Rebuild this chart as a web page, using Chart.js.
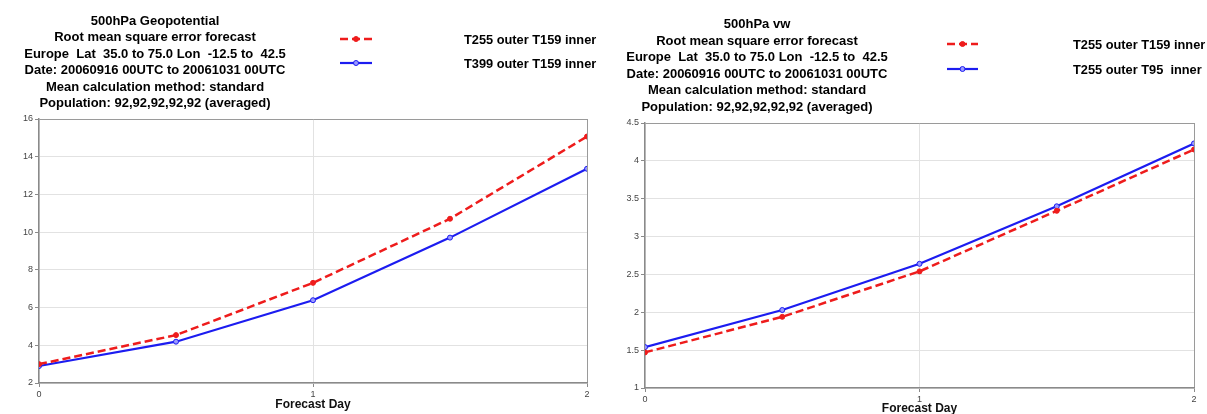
<!DOCTYPE html>
<html>
<head>
<meta charset="utf-8">
<script src="https://cdn.jsdelivr.net/npm/chart.js@4.4.1/dist/chart.umd.min.js"></script>
<style>
    html, body { margin: 0; padding: 0; background: #fff; }
    body { width: 1207px; height: 414px; position: relative; overflow: hidden; }
    .panel { position: absolute; top: 0; height: 414px; }
    #leftPanel { left: 0; width: 600px; }
    #rightPanel { left: 600px; width: 607px; }
</style>
</head>
<body>
<div class="panel" id="leftPanel"><canvas id="geoChart" width="600" height="414"></canvas></div>
<div class="panel" id="rightPanel"><canvas id="vwChart" width="607" height="414"></canvas></div>
<script>
// ================= DATA =================
const forecastDays = [0, 0.5, 1, 1.5, 2];
const xTicks = [0, 1, 2];

// 500hPa Geopotential - RMSE
const geoT255T159 = [3.0, 4.54, 7.31, 10.71, 15.07];
const geoT399T159 = [2.9, 4.19, 6.39, 9.71, 13.36];
const geoYTicks = [2, 4, 6, 8, 10, 12, 14, 16];

// 500hPa vw - RMSE
const vwT255T159 = [1.47, 1.94, 2.54, 3.34, 4.15];
const vwT255T95 = [1.54, 2.03, 2.64, 3.40, 4.23];
const vwYTicks = [1, 1.5, 2, 2.5, 3, 3.5, 4, 4.5];

const geoTitle = [
    "500hPa Geopotential",
    "Root mean square error forecast",
    "Europe  Lat  35.0 to 75.0 Lon  -12.5 to  42.5",
    "Date: 20060916 00UTC to 20061031 00UTC",
    "Mean calculation method: standard",
    "Population: 92,92,92,92,92 (averaged)"
];
const vwTitle = [
    "500hPa vw",
    "Root mean square error forecast",
    "Europe  Lat  35.0 to 75.0 Lon  -12.5 to  42.5",
    "Date: 20060916 00UTC to 20061031 00UTC",
    "Mean calculation method: standard",
    "Population: 92,92,92,92,92 (averaged)"
];
const geoLabels = ["T255 outer T159 inner", "T399 outer T159 inner"];
const vwLabels = ["T255 outer T159 inner", "T255 outer T95  inner"];

const FONT = "'Liberation Sans', Arial, Helvetica, sans-serif";
Chart.defaults.font.family = FONT;

// ================= TITLE + LEGEND PLUGIN =================
const headerPlugin = {
    id: "header",
    afterDraw(chart, args, opts) {
        const ctx = chart.ctx;
        ctx.save();
        ctx.fillStyle = "#000";
        ctx.textBaseline = "middle";
        ctx.font = "bold 13px " + FONT;
        ctx.textAlign = "center";
        opts.lines.forEach((line, i) => {
            ctx.fillText(line, opts.titleX, opts.titleY + i * opts.lineGap);
        });

        // legend rows
        ctx.font = "bold 12.8px " + FONT;
        ctx.textAlign = "left";
        chart.data.datasets.forEach((ds, i) => {
            const y = opts.legendY[i];
            ctx.strokeStyle = ds.borderColor;
            ctx.lineWidth = ds.borderWidth;
            ctx.setLineDash(ds.borderDash || []);
            ctx.beginPath();
            ctx.moveTo(opts.markX1, y);
            ctx.lineTo(opts.markX2, y);
            ctx.stroke();
            ctx.setLineDash([]);
            ctx.beginPath();
            ctx.arc((opts.markX1 + opts.markX2) / 2, y, 2.5, 0, Math.PI * 2);
            ctx.fillStyle = ds.pointBackgroundColor;
            ctx.fill();
            ctx.lineWidth = 1;
            ctx.strokeStyle = ds.pointBorderColor;
            ctx.stroke();
            ctx.fillStyle = "#000";
            ctx.fillText(ds.label, opts.textX, y + 1);
        });
        ctx.restore();
    }
};

// ================= CHART BUILDER =================
function toPoints(values) {
    return forecastDays.map((d, i) => ({ x: d, y: values[i] }));
}

// last gridline doubles as the frame, so draw it darker
function frameColor(max) {
    return (c) => (c.tick && c.tick.value === max ? "#9a9a9a" : "#e2e2e2");
}

function buildChart(canvasId, cfg) {
    const yMin = cfg.yTicks[0];
    const yMax = cfg.yTicks[cfg.yTicks.length - 1];
    return new Chart(document.getElementById(canvasId), {
        type: "line",
        data: {
            datasets: [
                {
                    label: cfg.labels[0],
                    data: toPoints(cfg.red),
                    borderColor: "#ee1c1c",
                    borderWidth: 2.5,
                    borderDash: [8, 4],
                    pointRadius: 2.5,
                    pointBackgroundColor: "#ee1c1c",
                    pointBorderColor: "#ee1c1c",
                    pointBorderWidth: 1,
                    tension: 0
                },
                {
                    label: cfg.labels[1],
                    data: toPoints(cfg.blue),
                    borderColor: "#1c1cf0",
                    borderWidth: 2.2,
                    pointRadius: 2.5,
                    pointBackgroundColor: "#9a9aff",
                    pointBorderColor: "#1c1cf0",
                    pointBorderWidth: 1,
                    tension: 0
                }
            ]
        },
        options: {
            responsive: false,
            animation: false,
            layout: {
                padding: { top: cfg.top, right: cfg.right, left: 0, bottom: 0 }
            },
            plugins: {
                legend: { display: false },
                title: { display: false },
                tooltip: { enabled: false },
                header: cfg.header
            },
            scales: {
                x: {
                    type: "linear",
                    min: 0,
                    max: 2,
                    afterBuildTicks: (s) => { s.ticks = xTicks.map((v) => ({ value: v })); },
                    afterFit: (s) => { s.height = cfg.xHeight; },
                    grid: { color: frameColor(2), tickColor: "#8a8a8a", tickLength: 4, lineWidth: 1 },
                    border: { color: "#8a8a8a", width: 1.5 },
                    ticks: { color: "#444", font: { size: 9 }, padding: 2, maxRotation: 0 },
                    title: {
                        display: true,
                        text: "Forecast Day",
                        color: "#111",
                        font: { size: 12, weight: "bold", lineHeight: 1 },
                        padding: { top: 0, bottom: cfg.titlePad }
                    }
                },
                y: {
                    min: yMin,
                    max: yMax,
                    afterBuildTicks: (s) => { s.ticks = cfg.yTicks.map((v) => ({ value: v })); },
                    afterFit: (s) => { s.width = cfg.yWidth; },
                    grid: { color: frameColor(yMax), tickColor: "#8a8a8a", tickLength: 4, lineWidth: 1 },
                    border: { color: "#8a8a8a", width: 1.5 },
                    ticks: { color: "#444", font: { size: 9 }, padding: 2, callback: (v) => String(v) }
                }
            }
        },
        plugins: [headerPlugin]
    });
}

// Geopotential chart (left)
buildChart("geoChart", {
    red: geoT255T159,
    blue: geoT399T159,
    labels: geoLabels,
    yTicks: geoYTicks,
    top: 119,
    right: 13,
    yWidth: 39,
    xHeight: 31,
    titlePad: 3,
    header: {
        lines: geoTitle,
        titleX: 155,
        titleY: 21,
        lineGap: 16.5,
        legendY: [39, 63],
        markX1: 340,
        markX2: 372,
        textX: 464
    }
});

// vw chart (right)
buildChart("vwChart", {
    red: vwT255T159,
    blue: vwT255T95,
    labels: vwLabels,
    yTicks: vwYTicks,
    top: 123,
    right: 13,
    yWidth: 45,
    xHeight: 26,
    titlePad: -1,
    header: {
        lines: vwTitle,
        titleX: 157,
        titleY: 24.5,
        lineGap: 16.6,
        legendY: [44, 69],
        markX1: 347,
        markX2: 378,
        textX: 473
    }
});
</script>
</body>
</html>
